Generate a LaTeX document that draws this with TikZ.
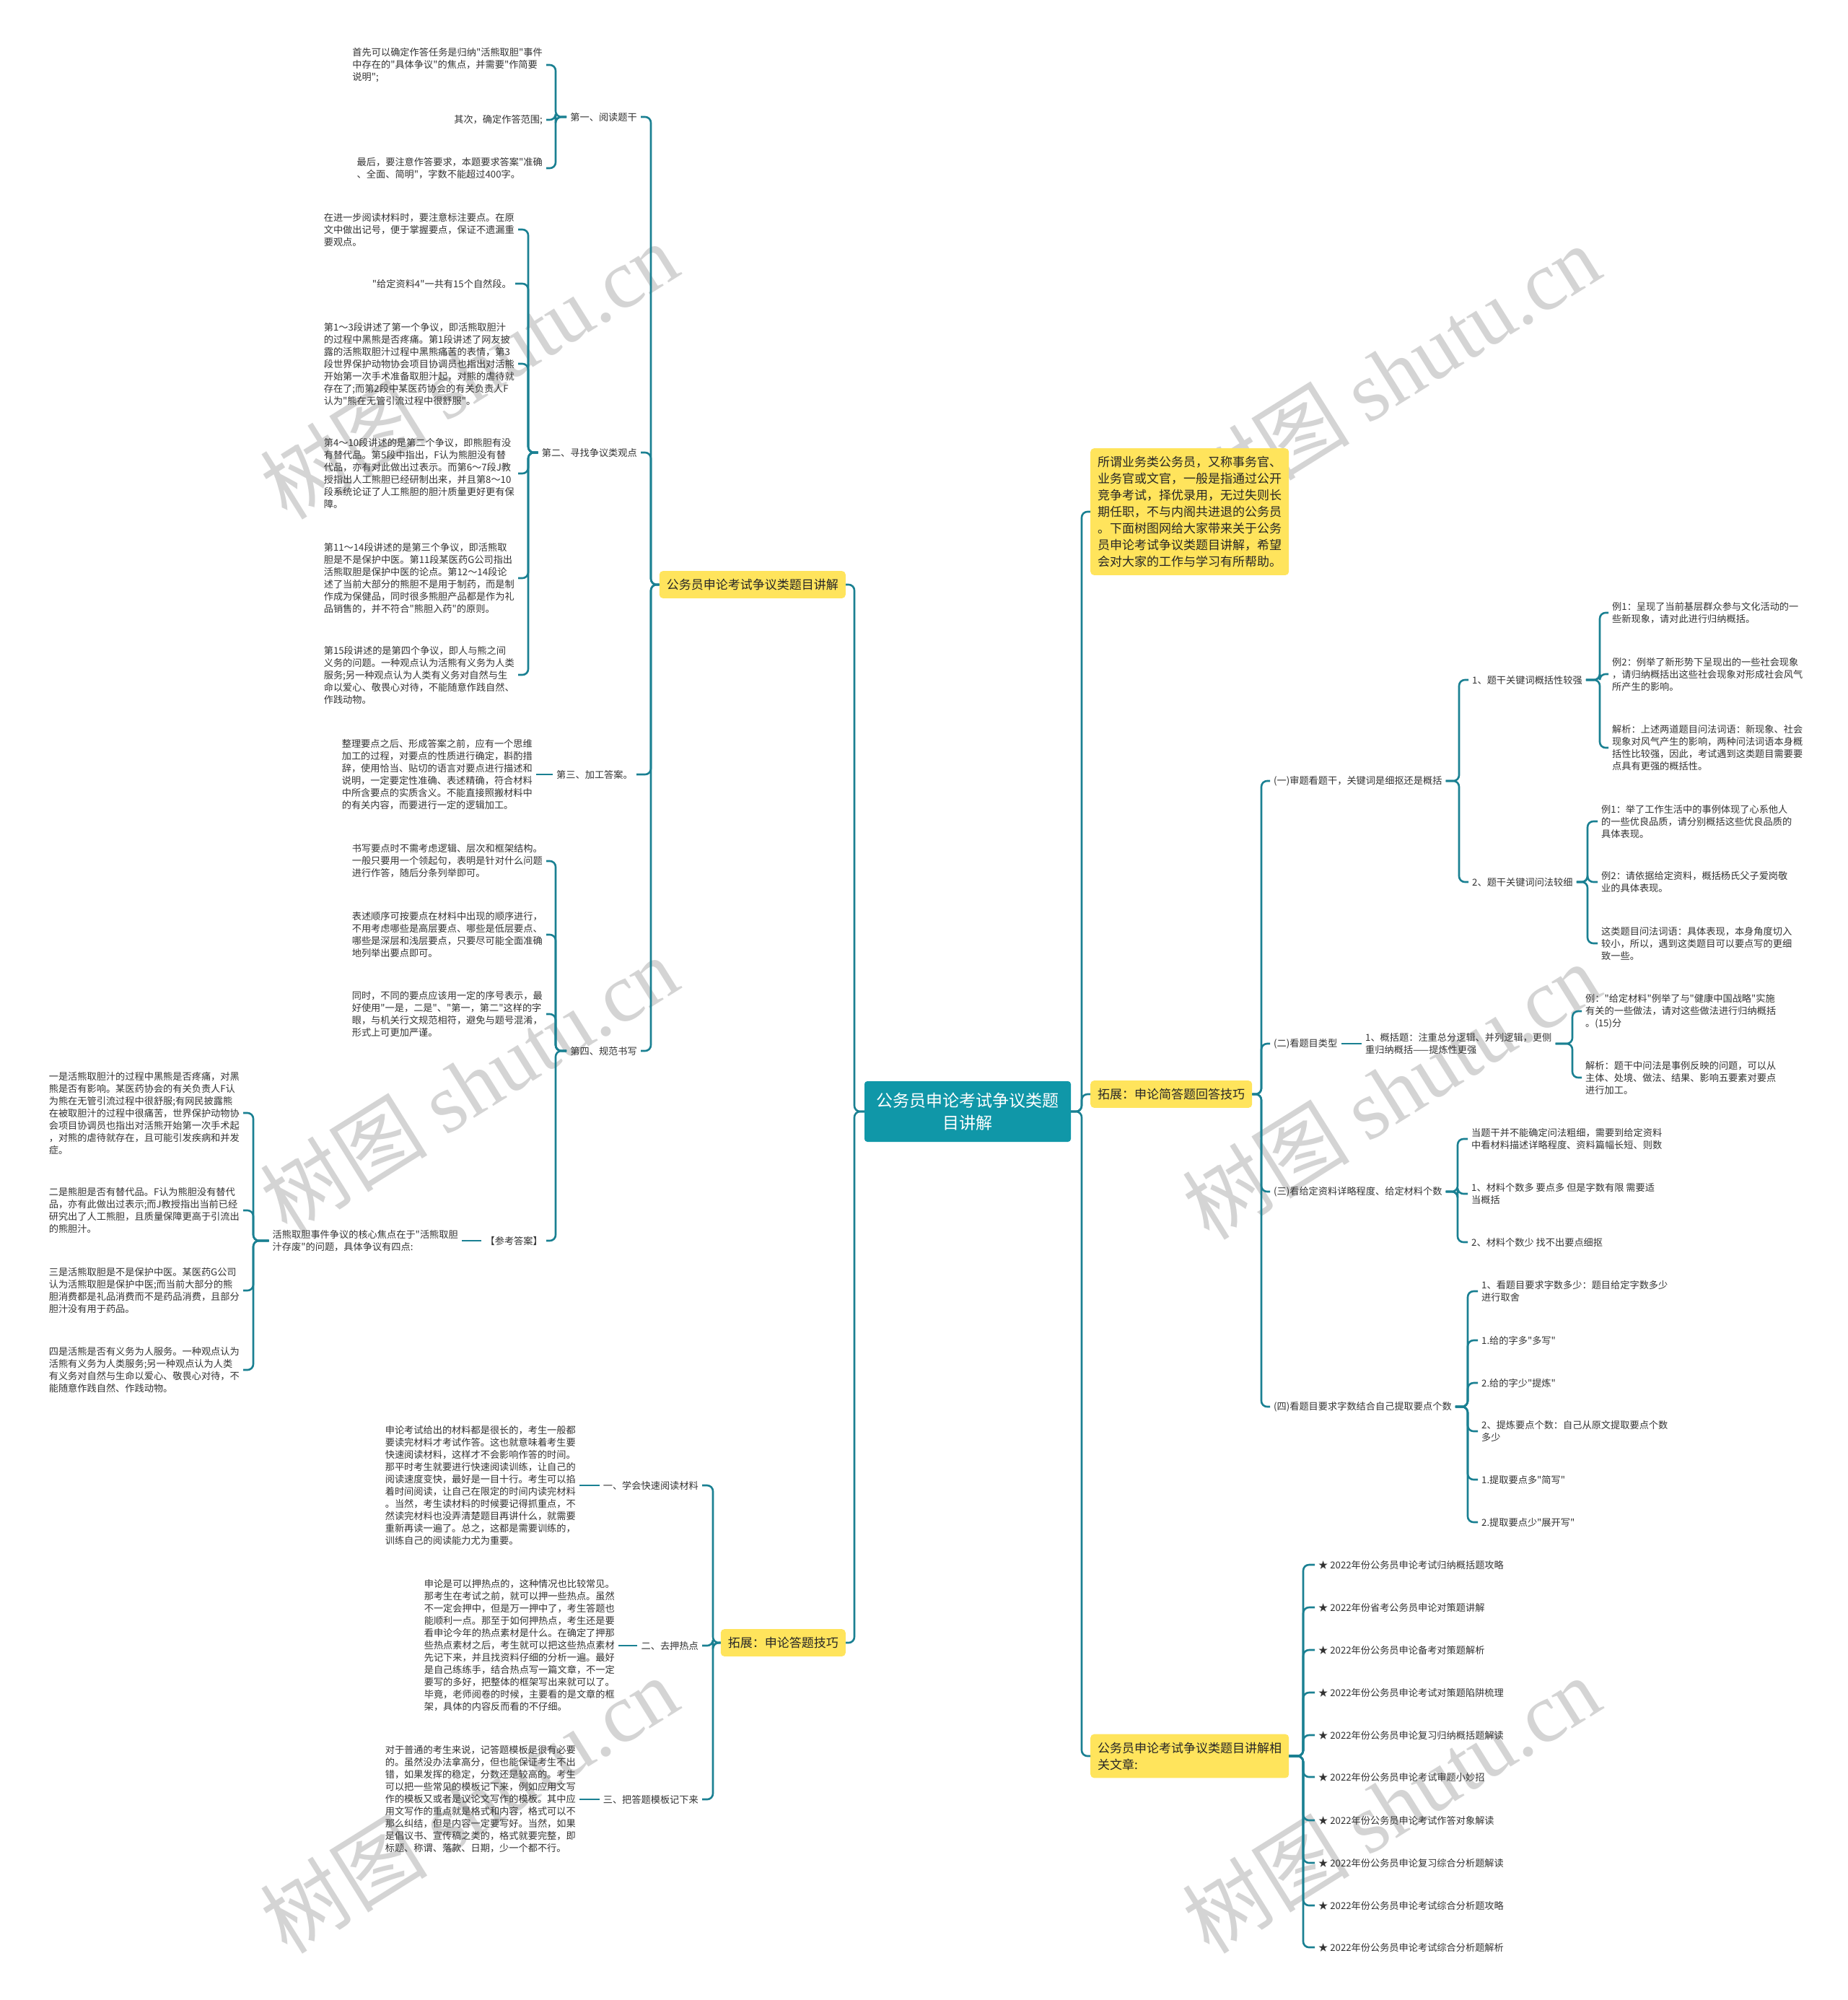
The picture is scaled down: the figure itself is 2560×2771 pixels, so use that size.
\documentclass[tikz,border=0pt]{standalone}
\usepackage{fontspec}
\setmainfont{Noto Sans CJK SC}[Ligatures=TeXOff]
\newfontfamily\wmfont{Liberation Serif}
\usepackage{tikz}
\definecolor{LTeal}{RGB}{26,128,146}
\definecolor{RTeal}{RGB}{16,151,168}
\definecolor{MYellow}{RGB}{255,228,92}
\definecolor{TGray}{RGB}{51,51,51}
\definecolor{WGray}{RGB}{212,212,212}

\begin{document}
\begin{tikzpicture}[
    x=1pt, y=-1pt,
    link/.style={draw=LTeal, line width=2.6pt, rounded corners=8pt},
    leaf/.style={
      font=\fontsize{13.2pt}{17pt}\selectfont,
      text=TGray,
      align=left,
      inner sep=5pt
    },
    leafl/.style={leaf, anchor=east},
    leafr/.style={leaf, anchor=west},
    ybox/.style={
      fill=MYellow,
      rounded corners=5pt,
      inner xsep=10pt,
      inner ysep=11pt,
      align=left,
      text=black!85,
      font=\fontsize{17pt}{23pt}\selectfont
    },
    rootbox/.style={
      fill=RTeal,
      rounded corners=4pt,
      minimum width=286pt,
      minimum height=84pt,
      align=center,
      text=white,
      font=\fontsize{23pt}{31pt}\selectfont
    },
    wmark/.style={
      rotate=32,
      text=WGray,
      inner sep=0pt,
      font=\fontsize{116pt}{120pt}\selectfont
    }
  ]
    \useasboundingbox[fill=white] (0,0) rectangle (2560,2771);

    \node[wmark] (wm1) at (650,513) {树图 {\wmfont shutu.cn}};
    \node[wmark] (wm2) at (1928,516) {树图 {\wmfont shutu.cn}};
    \node[wmark] (wm3) at (650,1502) {树图 {\wmfont shutu.cn}};
    \node[wmark] (wm4) at (1928,1511) {树图 {\wmfont shutu.cn}};
    \node[wmark] (wm5) at (650,2500) {树图 {\wmfont shutu.cn}};
    \node[wmark] (wm6) at (1928,2500) {树图 {\wmfont shutu.cn}};

    \node[rootbox] (root) at (1341,1540) {公务员申论考试争议类题\\目讲解};

    \node[ybox, anchor=west] (intro) at (1511,709) {所谓业务类公务员，又称事务官、\\业务官或文官，一般是指通过公开\\竞争考试，择优录用，无过失则长\\期任职，不与内阁共进退的公务员\\。下面树图网给大家带来关于公务\\员申论考试争议类题目讲解，希望\\会对大家的工作与学习有所帮助。};
    \node[ybox, anchor=west] (skillR) at (1511,1516) {拓展：申论简答题回答技巧};
    \node[ybox, anchor=west] (links) at (1511,2433) {公务员申论考试争议类题目讲解相\\关文章:};
    \node[ybox, anchor=east] (topic) at (1172,810) {公务员申论考试争议类题目讲解};
    \node[ybox, anchor=east] (skillL) at (1172,2276) {拓展：申论答题技巧};

    \coordinate (rootR) at (1499,1540);
    \coordinate (rootL) at (1184,1540);
    \draw[link] (root) -- (rootR) |- (intro);
    \draw[link] (root) -- (rootR) |- (skillR);
    \draw[link] (root) -- (rootR) |- (links);
    \draw[link] (root) -- (rootL) |- (topic);
    \draw[link] (root) -- (rootL) |- (skillL);

    % left: topic
    \node[leafl] (read) at (888,162) {第一、阅读题干};
    \node[leafl] (seek) at (888,627) {第二、寻找争议类观点};
    \node[leafl] (proc) at (882,1073) {第三、加工答案。};
    \node[leafl] (write) at (888,1456) {第四、规范书写};
    \coordinate (topicbus) at (902,810);
    \draw[link] (topic) -- (topicbus) |- (read);
    \draw[link] (topic) -- (topicbus) |- (seek);
    \draw[link] (topic) -- (topicbus) |- (proc);
    \draw[link] (topic) -- (topicbus) |- (write);

    \node[leafl] (read1) at (757,90) {首先可以确定作答任务是归纳"活熊取胆"事件\\中存在的"具体争议"的焦点，并需要"作简要\\说明";};
    \node[leafl] (read2) at (757,166) {其次，确定作答范围;};
    \node[leafl] (read3) at (757,233) {最后，要注意作答要求，本题要求答案"准确\\、全面、简明"，字数不能超过400字。};
    \coordinate (readbus) at (770,162);
    \draw[link] (read) -- (readbus) |- (read1);
    \draw[link] (read) -- (readbus) |- (read2);
    \draw[link] (read) -- (readbus) |- (read3);

    \node[leafl] (seek1) at (718,318) {在进一步阅读材料时，要注意标注要点。在原\\文中做出记号，便于掌握要点，保证不遗漏重\\要观点。};
    \node[leafl] (seek2) at (714,393) {"给定资料4"一共有15个自然段。};
    \node[leafl] (seek3) at (718,504) {第1～3段讲述了第一个争议，即活熊取胆汁\\的过程中黑熊是否疼痛。第1段讲述了网友披\\露的活熊取胆汁过程中黑熊痛苦的表情，第3\\段世界保护动物协会项目协调员也指出对活熊\\开始第一次手术准备取胆汁起，对熊的虐待就\\存在了;而第2段中某医药协会的有关负责人F\\认为"熊在无管引流过程中很舒服"。};
    \node[leafl] (seek4) at (718,656) {第4～10段讲述的是第二个争议，即熊胆有没\\有替代品。第5段中指出，F认为熊胆没有替\\代品，亦有对此做出过表示。而第6～7段J教\\授指出人工熊胆已经研制出来，并且第8～10\\段系统论证了人工熊胆的胆汁质量更好更有保\\障。};
    \node[leafl] (seek5) at (718,801) {第11～14段讲述的是第三个争议，即活熊取\\胆是不是保护中医。第11段某医药G公司指出\\活熊取胆是保护中医的论点。第12～14段论\\述了当前大部分的熊胆不是用于制药，而是制\\作成为保健品，同时很多熊胆产品都是作为礼\\品销售的，并不符合"熊胆入药"的原则。};
    \node[leafl] (seek6) at (718,935) {第15段讲述的是第四个争议，即人与熊之间\\义务的问题。一种观点认为活熊有义务为人类\\服务;另一种观点认为人类有义务对自然与生\\命以爱心、敬畏心对待，不能随意作践自然、\\作践动物。};
    \coordinate (seekbus) at (732,627);
    \draw[link] (seek) -- (seekbus) |- (seek1);
    \draw[link] (seek) -- (seekbus) |- (seek2);
    \draw[link] (seek) -- (seekbus) |- (seek3);
    \draw[link] (seek) -- (seekbus) |- (seek4);
    \draw[link] (seek) -- (seekbus) |- (seek5);
    \draw[link] (seek) -- (seekbus) |- (seek6);

    \node[leafl] (proc1) at (743,1073) {整理要点之后、形成答案之前，应有一个思维\\加工的过程，对要点的性质进行确定，斟酌措\\辞，使用恰当、贴切的语言对要点进行描述和\\说明，一定要定性准确、表述精确，符合材料\\中所含要点的实质含义。不能直接照搬材料中\\的有关内容，而要进行一定的逻辑加工。};
    \draw[link] (proc) -- (proc1);

    \node[leafl] (write1) at (757,1193) {书写要点时不需考虑逻辑、层次和框架结构。\\一般只要用一个领起句，表明是针对什么问题\\进行作答，随后分条列举即可。};
    \node[leafl] (write2) at (757,1295) {表述顺序可按要点在材料中出现的顺序进行，\\不用考虑哪些是高层要点、哪些是低层要点、\\哪些是深层和浅层要点，只要尽可能全面准确\\地列举出要点即可。};
    \node[leafl] (write3) at (757,1405) {同时，不同的要点应该用一定的序号表示，最\\好使用"一是，二是"、"第一，第二"这样的字\\眼，与机关行文规范相符，避免与题号混淆，\\形式上可更加严谨。};
    \node[leafl] (key) at (757,1719) {【参考答案】};
    \coordinate (writebus) at (770,1456);
    \draw[link] (write) -- (writebus) |- (write1);
    \draw[link] (write) -- (writebus) |- (write2);
    \draw[link] (write) -- (writebus) |- (write3);
    \draw[link] (write) -- (writebus) |- (key);

    \node[leafl] (core) at (640,1719) {活熊取胆事件争议的核心焦点在于"活熊取胆\\汁存废"的问题，具体争议有四点:};
    \draw[link] (key) -- (core);

    \node[leafl] (core1) at (337,1542) {一是活熊取胆汁的过程中黑熊是否疼痛，对黑\\熊是否有影响。某医药协会的有关负责人F认\\为熊在无管引流过程中很舒服;有网民披露熊\\在被取胆汁的过程中很痛苦，世界保护动物协\\会项目协调员也指出对活熊开始第一次手术起\\，对熊的虐待就存在，且可能引发疾病和并发\\症。};
    \node[leafl] (core2) at (337,1677) {二是熊胆是否有替代品。F认为熊胆没有替代\\品，亦有此做出过表示;而J教授指出当前已经\\研究出了人工熊胆，且质量保障更高于引流出\\的熊胆汁。};
    \node[leafl] (core3) at (337,1788) {三是活熊取胆是不是保护中医。某医药G公司\\认为活熊取胆是保护中医;而当前大部分的熊\\胆消费都是礼品消费而不是药品消费，且部分\\胆汁没有用于药品。};
    \node[leafl] (core4) at (337,1898) {四是活熊是否有义务为人服务。一种观点认为\\活熊有义务为人类服务;另一种观点认为人类\\有义务对自然与生命以爱心、敬畏心对待，不\\能随意作践自然、作践动物。};
    \coordinate (corebus) at (351,1719);
    \draw[link] (core) -- (corebus) |- (core1);
    \draw[link] (core) -- (corebus) |- (core2);
    \draw[link] (core) -- (corebus) |- (core3);
    \draw[link] (core) -- (corebus) |- (core4);

    % left: skills
    \node[leafl] (fast) at (973,2058) {一、学会快速阅读材料};
    \node[leafl] (hot) at (973,2280) {二、去押热点};
    \node[leafl] (tmpl) at (973,2493) {三、把答题模板记下来};
    \coordinate (skillLbus) at (988,2276);
    \draw[link] (skillL) -- (skillLbus) |- (fast);
    \draw[link] (skillL) -- (skillLbus) |- (hot);
    \draw[link] (skillL) -- (skillLbus) |- (tmpl);

    \node[leafl] (fast1) at (803,2058) {申论考试给出的材料都是很长的，考生一般都\\要读完材料才考试作答。这也就意味着考生要\\快速阅读材料，这样才不会影响作答的时间。\\那平时考生就要进行快速阅读训练，让自己的\\阅读速度变快，最好是一目十行。考生可以掐\\着时间阅读，让自己在限定的时间内读完材料\\。当然，考生读材料的时候要记得抓重点，不\\然读完材料也没弄清楚题目再讲什么，就需要\\重新再读一遍了。总之，这都是需要训练的，\\训练自己的阅读能力尤为重要。};
    \node[leafl] (hot1) at (857,2280) {申论是可以押热点的，这种情况也比较常见。\\那考生在考试之前，就可以押一些热点。虽然\\不一定会押中，但是万一押中了，考生答题也\\能顺利一点。那至于如何押热点，考生还是要\\看申论今年的热点素材是什么。在确定了押那\\些热点素材之后，考生就可以把这些热点素材\\先记下来，并且找资料仔细的分析一遍。最好\\是自己练练手，结合热点写一篇文章，不一定\\要写的多好，把整体的框架写出来就可以了。\\毕竟，老师阅卷的时候，主要看的是文章的框\\架，具体的内容反而看的不仔细。};
    \node[leafl] (tmpl1) at (803,2493) {对于普通的考生来说，记答题模板是很有必要\\的。虽然没办法拿高分，但也能保证考生不出\\错，如果发挥的稳定，分数还是较高的。考生\\可以把一些常见的模板记下来，例如应用文写\\作的模板又或者是议论文写作的模板。其中应\\用文写作的重点就是格式和内容，格式可以不\\那么纠结，但是内容一定要写好。当然，如果\\是倡议书、宣传稿之类的，格式就要完整，即\\标题、称谓、落款、日期，少一个都不行。};
    \draw[link] (fast) -- (fast1);
    \draw[link] (hot) -- (hot1);
    \draw[link] (tmpl) -- (tmpl1);

    % right: skills
    \node[leafr] (stem) at (1760,1082) {(一)审题看题干，关键词是细抠还是概括};
    \node[leafr] (kind) at (1760,1446) {(二)看题目类型};
    \node[leafr] (mat) at (1760,1651) {(三)看给定资料详略程度、给定材料个数};
    \node[leafr] (count) at (1760,1949) {(四)看题目要求字数结合自己提取要点个数};
    \coordinate (skillRbus) at (1748,1516);
    \draw[link] (skillR) -- (skillRbus) |- (stem);
    \draw[link] (skillR) -- (skillRbus) |- (kind);
    \draw[link] (skillR) -- (skillRbus) |- (mat);
    \draw[link] (skillR) -- (skillRbus) |- (count);

    \node[leafr] (broad) at (2035,942) {1、题干关键词概括性较强};
    \node[leafr] (fine) at (2035,1222) {2、题干关键词问法较细};
    \coordinate (stembus) at (2022,1082);
    \draw[link] (stem) -- (stembus) |- (broad);
    \draw[link] (stem) -- (stembus) |- (fine);

    \node[leafr] (broad1) at (2229,849) {例1：呈现了当前基层群众参与文化活动的一\\些新现象，请对此进行归纳概括。};
    \node[leafr] (broad2) at (2229,934) {例2：例举了新形势下呈现出的一些社会现象\\，请归纳概括出这些社会现象对形成社会风气\\所产生的影响。};
    \node[leafr] (broad3) at (2229,1036) {解析：上述两道题目问法词语：新现象、社会\\现象对风气产生的影响，两种问法词语本身概\\括性比较强，因此，考试遇到这类题目需要要\\点具有更强的概括性。};
    \coordinate (broadbus) at (2217,942);
    \draw[link] (broad) -- (broadbus) |- (broad1);
    \draw[link] (broad) -- (broadbus) |- (broad2);
    \draw[link] (broad) -- (broadbus) |- (broad3);

    \node[leafr] (fine1) at (2214,1138) {例1：举了工作生活中的事例体现了心系他人\\的一些优良品质，请分别概括这些优良品质的\\具体表现。};
    \node[leafr] (fine2) at (2214,1222) {例2：请依据给定资料，概括杨氏父子爱岗敬\\业的具体表现。};
    \node[leafr] (fine3) at (2214,1307) {这类题目问法词语：具体表现，本身角度切入\\较小，所以，遇到这类题目可以要点写的更细\\致一些。};
    \coordinate (finebus) at (2200,1222);
    \draw[link] (fine) -- (finebus) |- (fine1);
    \draw[link] (fine) -- (finebus) |- (fine2);
    \draw[link] (fine) -- (finebus) |- (fine3);

    \node[leafr] (sum) at (1887,1446) {1、概括题：注重总分逻辑、并列逻辑，更侧\\重归纳概括——提炼性更强};
    \draw[link] (kind) -- (sum);
    \node[leafr] (sum1) at (2192,1401) {例："给定材料"例举了与"健康中国战略"实施\\有关的一些做法，请对这些做法进行归纳概括\\。(15)分};
    \node[leafr] (sum2) at (2192,1493) {解析：题干中问法是事例反映的问题，可以从\\主体、处境、做法、结果、影响五要素对要点\\进行加工。};
    \coordinate (sumbus) at (2179,1446);
    \draw[link] (sum) -- (sumbus) |- (sum1);
    \draw[link] (sum) -- (sumbus) |- (sum2);

    \node[leafr] (mat1) at (2034,1578) {当题干并不能确定问法粗细，需要到给定资料\\中看材料描述详略程度、资料篇幅长短、则数};
    \node[leafr] (mat2) at (2034,1654) {1、材料个数多 要点多 但是字数有限 需要适\\当概括};
    \node[leafr] (mat3) at (2034,1721) {2、材料个数少 找不出要点细抠};
    \coordinate (matbus) at (2020,1651);
    \draw[link] (mat) -- (matbus) |- (mat1);
    \draw[link] (mat) -- (matbus) |- (mat2);
    \draw[link] (mat) -- (matbus) |- (mat3);

    \node[leafr] (count1) at (2048,1789) {1、看题目要求字数多少：题目给定字数多少\\进行取舍};
    \node[leafr] (count2) at (2048,1857) {1.给的字多"多写"};
    \node[leafr] (count3) at (2048,1916) {2.给的字少"提炼"};
    \node[leafr] (count4) at (2048,1983) {2、提炼要点个数：自己从原文提取要点个数\\多少};
    \node[leafr] (count5) at (2048,2050) {1.提取要点多"简写"};
    \node[leafr] (count6) at (2048,2109) {2.提取要点少"展开写"};
    \coordinate (countbus) at (2034,1949);
    \draw[link] (count) -- (countbus) |- (count1);
    \draw[link] (count) -- (countbus) |- (count2);
    \draw[link] (count) -- (countbus) |- (count3);
    \draw[link] (count) -- (countbus) |- (count4);
    \draw[link] (count) -- (countbus) |- (count5);
    \draw[link] (count) -- (countbus) |- (count6);

    % right: articles
    \node[leafr] (art1) at (1822,2168) {★ 2022年份公务员申论考试归纳概括题攻略};
    \node[leafr] (art2) at (1822,2227) {★ 2022年份省考公务员申论对策题讲解};
    \node[leafr] (art3) at (1822,2286) {★ 2022年份公务员申论备考对策题解析};
    \node[leafr] (art4) at (1822,2345) {★ 2022年份公务员申论考试对策题陷阱梳理};
    \node[leafr] (art5) at (1822,2404) {★ 2022年份公务员申论复习归纳概括题解读};
    \node[leafr] (art6) at (1822,2462) {★ 2022年份公务员申论考试审题小妙招};
    \node[leafr] (art7) at (1822,2522) {★ 2022年份公务员申论考试作答对象解读};
    \node[leafr] (art8) at (1822,2581) {★ 2022年份公务员申论复习综合分析题解读};
    \node[leafr] (art9) at (1822,2640) {★ 2022年份公务员申论考试综合分析题攻略};
    \node[leafr] (art10) at (1822,2698) {★ 2022年份公务员申论考试综合分析题解析};
    \coordinate (linksbus) at (1806,2433);
    \draw[link] (links) -- (linksbus) |- (art1);
    \draw[link] (links) -- (linksbus) |- (art2);
    \draw[link] (links) -- (linksbus) |- (art3);
    \draw[link] (links) -- (linksbus) |- (art4);
    \draw[link] (links) -- (linksbus) |- (art5);
    \draw[link] (links) -- (linksbus) |- (art6);
    \draw[link] (links) -- (linksbus) |- (art7);
    \draw[link] (links) -- (linksbus) |- (art8);
    \draw[link] (links) -- (linksbus) |- (art9);
    \draw[link] (links) -- (linksbus) |- (art10);
  \end{tikzpicture}
\end{document}
